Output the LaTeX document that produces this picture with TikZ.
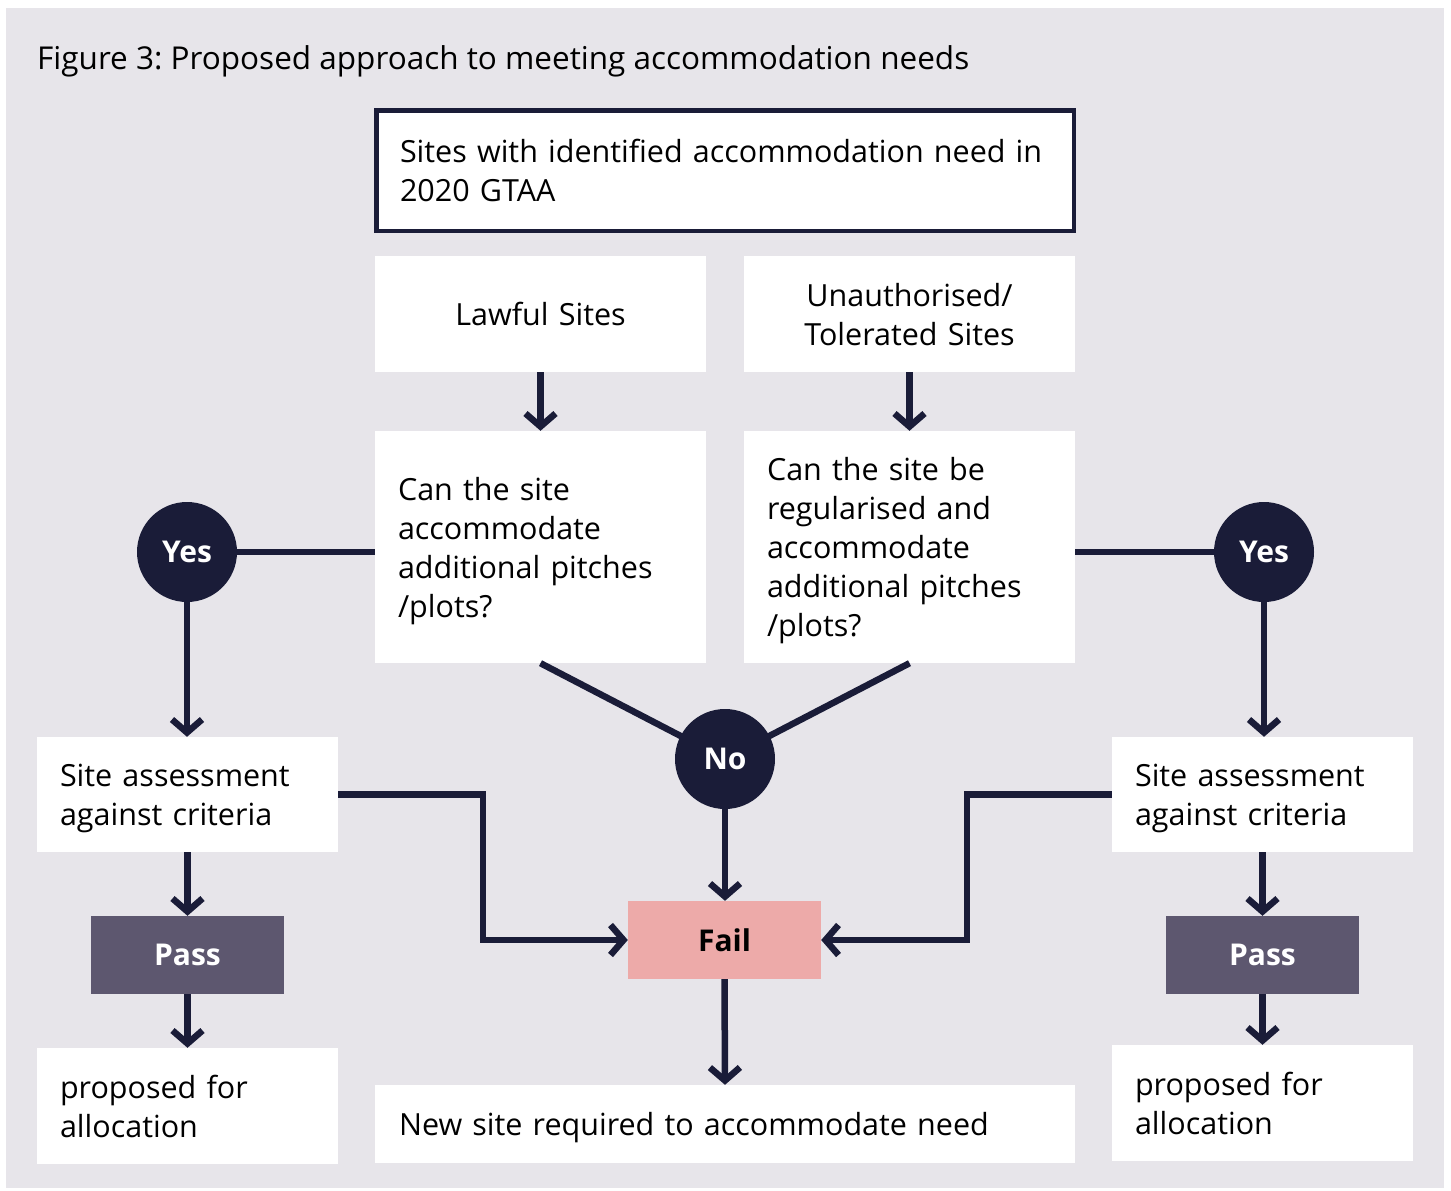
\documentclass[tikz,border=0pt]{standalone}
\usepackage{fontspec}
\setmainfont{Open Sans}
\frenchspacing
\usetikzlibrary{arrows.meta}
\definecolor{navy}{HTML}{1A1C38}
\definecolor{bg}{HTML}{E7E5EA}
\definecolor{passc}{HTML}{5D576F}
\definecolor{failc}{HTML}{EDAAA9}
\tikzset{
  box/.style={fill=white, draw=none, inner sep=0pt, font=\fontsize{30.5}{39}\selectfont,
    execute at begin node={\rule{0pt}{1.069em}},
    execute at end node={\rule[-0.293em]{0pt}{0.293em}}},
  tag/.style={fill=white, draw=none, inner sep=0pt, font=\fontsize{30}{39}\selectfont\bfseries,
    minimum width=193pt, minimum height=78pt},
  circ/.style={circle, fill=navy, draw=none, minimum size=100pt, inner sep=0pt, text=white, font=\fontsize{30}{39}\selectfont\bfseries},
  conn/.style={draw=navy, line width=6.5pt},
  arr/.style={conn, -{Straight Barb[length=13pt,width=30pt]}},
}
\begin{document}
\begin{tikzpicture}[x=1pt,y=-1pt]
\useasboundingbox (0,0) rectangle (1451,1191);
\fill[bg] (6,8) rectangle (1444,1188);
\node[anchor=west, font=\fontsize{31.5}{39}\selectfont, inner sep=0pt] (title) at (37,61) {Figure 3: Proposed approach to meeting accommodation needs};

\node[box, draw=navy, line width=4.5pt, minimum width=697.5pt, minimum height=120.5pt, text width=650pt, align=left] (top) at (725,170.5) {Sites with identified accommodation need in\\2020 GTAA};

\node[box, minimum width=331pt, minimum height=116pt, text width=300pt, align=center] (lawful) at (540.5,314) {Lawful Sites};
\node[box, minimum width=331pt, minimum height=116pt, text width=300pt, align=center] (unauth) at (909.5,314) {Unauthorised/\\Tolerated Sites};

\node[box, minimum width=331pt, minimum height=232pt, text width=285pt, align=left] (ql) at (540.5,547) {Can the site\\accommodate\\additional pitches\\/plots?};
\node[box, minimum width=331pt, minimum height=232pt, text width=285pt, align=left] (qr) at (909.5,547) {Can the site be\\regularised and\\accommodate\\additional pitches\\/plots?};

\node[box, minimum width=301pt, minimum height=115pt, text width=255pt, align=left] (sal) at (187.5,794.5) {Site assessment\\against criteria};
\node[box, minimum width=301pt, minimum height=115pt, text width=255pt, align=left] (sar) at (1262.5,794.5) {Site assessment\\against criteria};

\node[tag, fill=passc, text=white] (passl) at (187.5,955) {Pass};
\node[tag, fill=passc, text=white] (passr) at (1262.5,955) {Pass};

\node[tag, fill=failc] (fail) at (724.5,940) {Fail};

\node[box, minimum width=301pt, minimum height=116pt, text width=255pt, align=left] (propl) at (187.5,1106) {proposed for\\allocation};
\node[box, minimum width=301pt, minimum height=116pt, text width=255pt, align=left] (propr) at (1262.5,1103) {proposed for\\allocation};

\node[box, minimum width=700pt, minimum height=78pt, text width=652pt, align=left] (newsite) at (725,1124) {New site required to accommodate need};

% connectors
\draw[conn] (ql.south) -- (725,759);
\draw[conn] (qr.south) -- (725,759);
\node[circ] (yesl) at (187,552) {Yes};
\node[circ] (yesr) at (1264,552) {Yes};
\node[circ] (no) at (725,759) {No};

\draw[arr] (lawful.south) -- (ql.north);
\draw[arr] (unauth.south) -- (qr.north);
\draw[conn] (yesl.east) -- (yesl.east -| ql.west);
\draw[conn] (yesr.west) -- (yesr.west -| qr.east);
\draw[arr] (yesl.south) -- (yesl.south |- sal.north);
\draw[arr] (yesr.south) -- (yesr.south |- sar.north);
\draw[arr] (no.south) -- (no.south |- fail.north);
\draw[arr] (sal.east) -- ++(145,0) |- (fail.west);
\draw[arr] (sar.west) -- ++(-145,0) |- (fail.east);
\draw[arr] (sal.south) -- (passl.north);
\draw[arr] (sar.south) -- (passr.north);
\draw[arr] (passl.south) -- (propl.north);
\draw[arr] (passr.south) -- (propr.north);
\draw[arr] (fail.south) -- (newsite.north);
\end{tikzpicture}
\end{document}
